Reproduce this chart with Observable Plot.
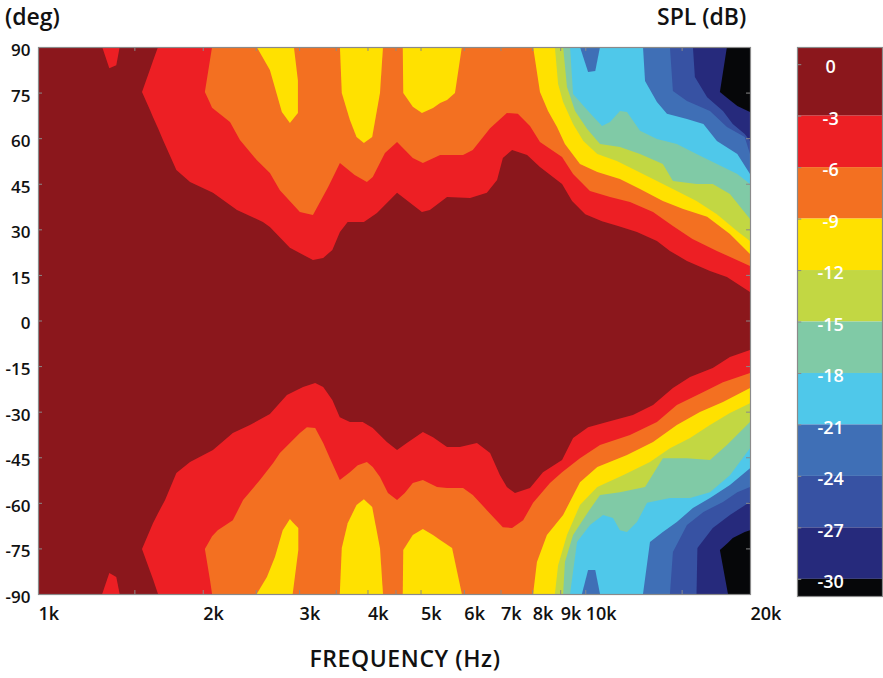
<!DOCTYPE html>
<html><head><meta charset="utf-8">
<script src="https://cdn.jsdelivr.net/npm/d3@7"></script>
<script src="https://cdn.jsdelivr.net/npm/@observablehq/plot@0.6"></script>
<style>
body{margin:0;background:#fff;font-family:"Open Sans",Lato,sans-serif}
#wrap{position:relative;width:883px;height:678px;overflow:hidden;background:#fff}
.t{position:absolute;font-weight:600;color:#111;font-size:23px;white-space:nowrap;line-height:1}
#wrap svg{position:absolute;top:0}
</style></head><body><div id="wrap">
<div class="t" style="left:5px;top:5px">(deg)</div>
<div class="t" style="left:657px;top:5px">SPL (dB)</div>
<div class="t" style="left:0;width:810px;text-align:center;top:647px;letter-spacing:0.6px">FREQUENCY (Hz)</div>
</div>
<script>
// ---- axes / legend values ----
const freqDomain = [1, 20];           // kHz
const angleDomain = [-90, 90];        // deg
const freqTicks = [1, 2, 3, 4, 5, 6, 7, 8, 9, 10, 20];
const minorFreqTicks = [1.5, 2, 2.5, 3, 3.5, 4, 4.5, 5, 6, 7, 8, 9, 10, 15];
const angleTicks = [90, 75, 60, 45, 30, 15, 0, -15, -30, -45, -60, -75, -90];
const splLevels = [0, -3, -6, -9, -12, -15, -18, -21, -24, -27, -30];
const splColors = ["#8B171C", "#ED1F24", "#F37021", "#FFE100", "#C2D743", "#80CAA6", "#4FC8EA", "#3F6FB6", "#3752A3", "#262A7C", "#060709"];

// ---- contour boundaries, upper half: [kHz, angle, (upper edge if not 90)] ----
const topM3a = [[1.31,90],[1.35,83],[1.39,84],[1.41,90]];
const topM3b = [[1.549,75.2,75.2],[1.602,69.3,82.6],[1.622,67,85.4],[1.657,63.3],[1.692,59.4],[1.79,49.5],[1.896,45.6],[2.088,42],[2.31,36.4],[2.576,32.4],[2.653,30.8],[2.886,23.9],[3.18,19.9],[3.32,20.6],[3.45,23.2],[3.562,29.1],[3.68,32.4],[3.94,32.4],[4.163,35.4],[4.53,42],[5.03,35.7],[5.2,36.4],[5.59,40.6],[6.16,40.3],[6.61,42],[6.9,46.2],[7.07,53.5],[7.35,56.1],[7.83,54.5],[8.265,50.5],[9.07,44.9],[9.46,39.3],[10,35],[10.73,32.7],[11.48,31.1],[12.43,29.1],[13.52,26.2],[14.28,22.9],[15.34,19.6],[16.9,16.3],[18.15,14.3],[20,9.4]];
const topM6 = [[2.018,75.2,75.2],[2.062,71.6,85.7],[2.08,70],[2.243,65.3],[2.339,59.4],[2.51,52.8],[2.653,48.5],[2.767,42.9],[3.01,35.7],[3.18,34.7],[3.39,43.9],[3.562,51.8],[3.79,47.9],[3.99,45.6],[4.09,47.2],[4.305,55.1],[4.53,58.7],[4.84,53.5],[5.05,51.8],[5.43,54.5],[5.98,54.5],[6.23,56.1],[6.7,63.3],[7.19,68.3],[7.53,68],[7.925,64],[8.265,58.7],[9.07,53.8],[9.5,48.2],[10.2,42.6],[11.1,40.6],[12.07,39],[13.3,35.7],[14.46,31.1],[15.7,26.8],[17.4,22.9],[20,17.9]];
const topM9a = [[2.51,90],[2.653,82.4],[2.79,68.6],[2.886,65],[2.935,66.6],[2.985,68.3,79]];
const topM9b = [[3.562,90],[3.59,74.9],[3.715,66],[3.82,60.4],[3.94,58.4],[4.08,60.4],[4.216,74.9],[4.27,90]];
const topM9c = [[4.64,90],[4.65,74.9],[4.84,70.3],[5.03,68.3],[5.27,69.9],[5.43,71.6],[5.59,72.6],[5.78,74.9],[5.95,90]];
const topM9d = [[8.03,90],[8.265,75.2],[8.55,68.9],[8.88,63.7],[9.18,58.1],[9.78,51.5],[10.52,48.9],[11.57,46.6],[12.59,43.3],[13.86,39.3],[15.1,36.7],[16.7,34.1],[18.38,28.5],[20,21.9]];
const topM12 = [[8.8,90],[8.92,77.8],[9.11,71.9],[9.5,64.7],[9.92,59.1],[10.52,54.8],[11.42,52.5],[12.43,49.2],[13.52,45.9],[14.7,42.6],[15.97,39.3],[17.4,35],[18.96,29.4],[20,26.2]];
const topM15 = [[9.11,90],[9.26,76.8],[9.58,68.9],[10.08,63],[10.64,58.1],[11.57,57.1],[12.59,54.8],[13.86,51.5],[14.46,45.9],[15.97,44.9],[17.1,44.9],[18.38,41.6],[20,33.4]];
const topM18 = [[9.38,90],[9.5,74.5],[10.12,68.9],[10.73,64],[11.1,65.3],[11.57,68.9],[11.92,68.6],[12.59,62.4],[13.52,59.7],[14.7,58.1],[15.97,54.8],[17.4,51.5],[18.96,48.2],[20,44.9]];
const topM21a = [[9.78,90],[10.12,81.8],[10.43,82.1],[10.64,90]];
const topM21b = [[12.75,90],[12.86,78.8],[13.52,71.9],[14.1,68],[15.34,66.3],[16.44,64.7],[17.4,59.1],[18.96,54.8],[20,48.2]];
const topM24 = [[14.28,90],[14.46,75.5],[15.34,72.2],[16.9,68.9],[18.15,63.7],[19.56,60.4],[20,54.8]];
const topM27 = [[15.73,90],[15.86,80.1],[16.7,73.5],[17.85,68.9],[18.6,64.7],[19.56,61.4],[20,59.1]];
const topM30 = [[17.62,75.2,75.2],[18.15,73.3],[18.96,70.6],[20,68.6]];

// ---- contour boundaries, lower half: [kHz, angle, (lower edge if not -90)] ----
const botM3a = [[1.31,-90],[1.35,-83.1],[1.39,-84.4],[1.41,-90]];
const botM3b = [[1.549,-75.2,-75.2],[1.602,-69,-82.4],[1.622,-66.7,-85.1],[1.657,-63.4],[1.707,-59.1],[1.79,-50.2],[1.896,-46.6],[2.088,-42.6],[2.27,-37],[2.439,-34.4],[2.653,-30.8],[2.85,-24.5],[3.05,-21.9],[3.21,-20.6],[3.32,-21.9],[3.45,-26.2],[3.56,-31.8],[3.715,-33.4],[3.92,-33.4],[4.09,-35.4],[4.34,-40],[4.53,-42.6],[4.72,-40.3],[5.05,-36.7],[5.27,-38.4],[5.59,-41.6],[5.9,-41.6],[6.34,-40.3],[6.7,-43.6],[6.985,-50.9],[7.19,-54.8],[7.44,-56.8],[7.925,-55.1],[8.37,-49.9],[9.07,-45.9],[9.5,-38.7],[10.12,-35.1],[10.96,-33.4],[12.22,-31.1],[13.3,-27.8],[14.46,-22.2],[15.54,-18.6],[17.1,-15.6],[18.38,-12],[20,-9.7]];
const botM6 = [[2.018,-75.2,-75.2],[2.062,-72.2,-85.4],[2.08,-71],[2.13,-69],[2.27,-65.7],[2.37,-59.1],[2.544,-52.5],[2.69,-46.9],[2.767,-43.6],[3.01,-37],[3.1,-35.1],[3.21,-35.4],[3.32,-40.3],[3.415,-45.3],[3.56,-52.5],[3.715,-49.9],[3.84,-47.6],[3.99,-46.6],[4.09,-48.2],[4.216,-51.5],[4.36,-56.8],[4.53,-59.1],[4.68,-56.8],[4.84,-53.5],[5.05,-52.5],[5.36,-54.8],[5.59,-55.1],[5.98,-55.1],[6.23,-57.4],[6.61,-62.4],[7.07,-68],[7.35,-68.3],[7.7,-65.7],[8.03,-60],[8.62,-53.5],[9.07,-49.9],[9.78,-45.3],[10.64,-41],[12.07,-37.7],[13.52,-33.4],[14.7,-27.8],[16.44,-23.5],[17.85,-20.3],[20,-17.3]];
const botM9a = [[2.51,-90],[2.62,-84.4],[2.71,-77.8],[2.8,-69],[2.886,-65.3],[2.92,-66.4],[2.99,-68.3,-75.5]];
const botM9b = [[3.56,-90],[3.59,-74.9],[3.68,-66.7],[3.82,-60.7],[3.94,-58.8],[4.08,-61.4],[4.216,-74.9],[4.27,-90]];
const botM9c = [[4.64,-90],[4.65,-75.5],[4.84,-70.6],[5.05,-68.6],[5.27,-70.6],[5.43,-72.2],[5.71,-74.9],[5.95,-90]];
const botM9d = [[8.03,-90],[8.16,-79.5],[8.51,-70.6],[9.11,-64],[9.78,-53.2],[10.52,-48.2],[11.92,-44.3],[13.3,-40],[14.7,-34.4],[16.2,-30.1],[17.85,-26.8],[20,-22.2]];
const botM12 = [[8.8,-90],[8.92,-80.5],[9.26,-70.6],[9.78,-60.7],[10.52,-54.8],[11.72,-50.9],[13.13,-46.6],[14.28,-42],[15.54,-38.7],[16.9,-34.4],[18.38,-30.4],[20,-27.2]];
const botM15 = [[9.11,-90],[9.18,-79.5],[9.5,-70.6],[10.12,-63],[10.64,-57.4],[11.57,-56.5],[12.86,-54.8],[13.86,-45.3],[15.34,-45.3],[16.9,-45.9],[18.15,-41],[20,-33.4]];
const botM18 = [[9.38,-90],[9.66,-72.9],[10.2,-67.3],[10.78,-64],[11.24,-65],[11.57,-69],[11.92,-69.6],[12.43,-66.3],[12.97,-60],[14.28,-58.4],[15.54,-58.4],[16.9,-56.5],[18.38,-50.9],[20,-42]];
const botM21a = [[9.86,-90],[10.12,-82.1],[10.43,-82.1],[10.64,-90]];
const botM21b = [[12.75,-90],[13.13,-72.9],[13.86,-69.6],[14.7,-66.3],[15.73,-61.7],[16.9,-58.4],[18.38,-54.1],[20,-48.6]];
const botM24 = [[14.28,-90],[14.46,-76.2],[15.34,-67.3],[16.44,-63],[17.85,-59.7],[18.96,-56.5],[20,-54.8]];
const botM27 = [[15.97,-90],[16.03,-74.9],[17.1,-68.3],[18.38,-64],[20,-59.7]];
const botM30 = [[17.62,-75.5,-75.5],[18.23,-73.1],[18.6,-71.6],[19.56,-69.6],[20,-69]];

// ---- build the table ----
const rows = [];
let patchId = 0;
function addTop(level, pts) { const id = patchId++; pts.forEach(p => rows.push({level, patch: id, f: p[0], lo: p[1], hi: p.length > 2 ? p[2] : 90})); }
function addBot(level, pts) { const id = patchId++; pts.forEach(p => rows.push({level, patch: id, f: p[0], hi: p[1], lo: p.length > 2 ? p[2] : -90})); }
addTop(-3, topM3a); addTop(-3, topM3b); addBot(-3, botM3a); addBot(-3, botM3b);
addTop(-6, topM6); addBot(-6, botM6);
[topM9a, topM9b, topM9c, topM9d].forEach(p => addTop(-9, p));
[botM9a, botM9b, botM9c, botM9d].forEach(p => addBot(-9, p));
addTop(-12, topM12); addBot(-12, botM12);
addTop(-15, topM15); addBot(-15, botM15);
addTop(-18, topM18); addBot(-18, botM18);
addTop(-21, topM21a); addTop(-21, topM21b); addBot(-21, botM21a); addBot(-21, botM21b);
addTop(-24, topM24); addBot(-24, botM24);
addTop(-27, topM27); addBot(-27, botM27);
addTop(-30, topM30); addBot(-30, botM30);

const colorOf = Object.fromEntries(splLevels.map((l, i) => [l, splColors[i]]));
const full = freqDomain.map(f => ({f, lo: angleDomain[0], hi: angleDomain[1]}));
const FONT = "'Open Sans', Lato, sans-serif";

const marks = [
  Plot.areaY(full, {x: "f", y1: "lo", y2: "hi", fill: colorOf[0]}),
  ...splLevels.slice(1).map(L => Plot.areaY(rows.filter(r => r.level === L), {x: "f", y1: "lo", y2: "hi", z: "patch", fill: colorOf[L]})),
  Plot.frame({stroke: "#8a8a8a", strokeWidth: 1.2}),
  Plot.ruleX(minorFreqTicks, {x: d => d, y1: 90, y2: 88.7, stroke: "#8a8a8a"}),
  Plot.ruleX(minorFreqTicks, {x: d => d, y1: -90, y2: -88.7, stroke: "#8a8a8a"}),
  Plot.ruleY(angleTicks, {y: d => d, x1: 1, x2: 1.017, stroke: "#8a8a8a"}),
  Plot.ruleY(angleTicks, {y: d => d, x1: 19.67, x2: 20, stroke: "#8a8a8a"}),
  Plot.text(freqTicks, {x: d => d, frameAnchor: "bottom", dy: 25, text: d => d + "k", textAnchor: "start", fontSize: 18, fontWeight: 600, fill: "#111"}),
  Plot.text(angleTicks, {y: d => d, frameAnchor: "left", dx: -8, dy: 3, text: d => String(d), textAnchor: "end", fontSize: 17, fontWeight: 600, fill: "#111"})
];

const main = Plot.plot({
  width: 760, height: 678,
  marginLeft: 38, marginRight: 10, marginTop: 47, marginBottom: 84,
  x: {type: "log", domain: freqDomain, axis: null},
  y: {domain: angleDomain, axis: null},
  style: {fontFamily: FONT, background: "transparent", overflow: "visible"},
  marks
});
main.style.left = "0px";
document.getElementById("wrap").appendChild(main);

// ---- colour bar ----
const bands = splLevels.map((l, i) => ({level: l, hi: l === 0 ? 1 : l, lo: l === -30 ? -31 : l - 3, color: splColors[i]}));
const bar = Plot.plot({
  width: 87, height: 678,
  marginLeft: 1, marginRight: 1, marginTop: 47, marginBottom: 82,
  x: {domain: [0, 1], axis: null},
  y: {domain: [-31, 1], axis: null},
  style: {fontFamily: FONT, background: "transparent", overflow: "visible"},
  marks: [
    Plot.rect(bands, {x1: 0, x2: 1, y1: "lo", y2: "hi", fill: "color"}),
    Plot.frame({stroke: "#8a8a8a", strokeWidth: 1.2}),
    Plot.ruleY(splLevels, {y: d => d, x1: 0, x2: 0.05, stroke: "#8a8a8a"}),
    Plot.text(splLevels, {y: d => d, x: 0.39, dy: 3, text: d => String(d), fill: "white", fontSize: 18, fontWeight: 600})
  ]
});
bar.style.left = "796px";
document.getElementById("wrap").appendChild(bar);
</script>
</body></html>
